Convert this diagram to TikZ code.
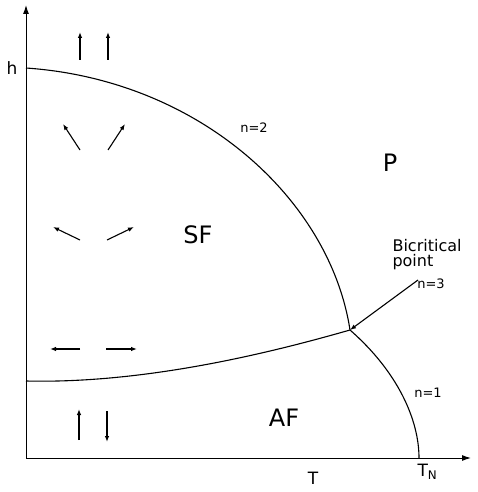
\documentclass[tikz,border=0pt]{standalone}
\usepackage{fontspec}
\setmainfont{DejaVu Sans}
\usetikzlibrary{arrows.meta}

\tikzset{
    axis/.style={line width=1pt, -{Latex[length=9pt,width=6pt]}},
    boundary/.style={line width=1.1pt},
    spin/.style={line width=1.1pt, -{Latex[length=6pt,width=4.5pt]}},
    phase/.style={font=\fontsize{24}{24}\selectfont},
    axlbl/.style={font=\fontsize{17}{17}\selectfont},
    lbl/.style={font=\fontsize{13}{13}\selectfont}
}

\begin{document}
\begin{tikzpicture}[x=1pt, y=-1pt]
     \useasboundingbox (0,0) rectangle (478,492);

     % Axes
     \coordinate (origin) at (26,458);
     \coordinate (hmax) at (26,5);
     \coordinate (tmax) at (471,458);
     \draw[axis] (origin) -- (hmax);
     \draw[axis] (origin) -- (tmax);
     \node[axlbl] (h) at (12,68) {h};
     \node[axlbl] (T) at (313,478) {T};
     \node[axlbl, anchor=west] (TN) at (414,472) {T$_{\mathrm{N}}$};

     % Phase boundaries
     \coordinate (hc) at (26,68);
     \coordinate (hsf) at (26,381);
     \coordinate (bicrit) at (350,330);
     \coordinate (tn) at (419,458);
     \draw[boundary] (hc) .. controls (200,80) and (330,200) .. (bicrit);
     \draw[boundary] (hsf) .. controls (150,384) and (280,350) .. (bicrit);
     \draw[boundary] (bicrit) .. controls (398,372) and (419,420) .. (tn);

     % Phase labels
     \node[phase] (P) at (390,163) {P};
     \node[phase] (SF) at (198,235) {SF};
     \node[phase] (AF) at (284,418) {AF};
     \node[lbl] (n2) at (254,128) {n=2};
     \node[lbl] (n1) at (428,393) {n=1};
     \node[lbl] (n3) at (431,284) {n=3};
     \node[font=\fontsize{16}{15}\selectfont, align=left, anchor=west] (bc) at (389,255) {Bicritical\\point};
     \coordinate (bctail) at (418,280);
     \draw[spin] (bctail) -- (bicrit);

     % Spins: paramagnetic (aligned with field)
     \draw[spin] (80,60) -- (80,32);
     \draw[spin] (108,60) -- (108,32);

     % Spins: spin-flop, canted
     \draw[spin] (80,150) -- (63,124);
     \draw[spin] (108,150) -- (125,124);
     \draw[spin] (80,240) -- (53,227);
     \draw[spin] (107,240) -- (134,227);
     \draw[spin] (80,349) -- (50,349);
     \draw[spin] (106,349) -- (137,349);

     % Spins: antiferromagnetic
     \draw[spin] (79,440) -- (79,409);
     \draw[spin] (107,411) -- (107,442);

\end{tikzpicture}
\end{document}
